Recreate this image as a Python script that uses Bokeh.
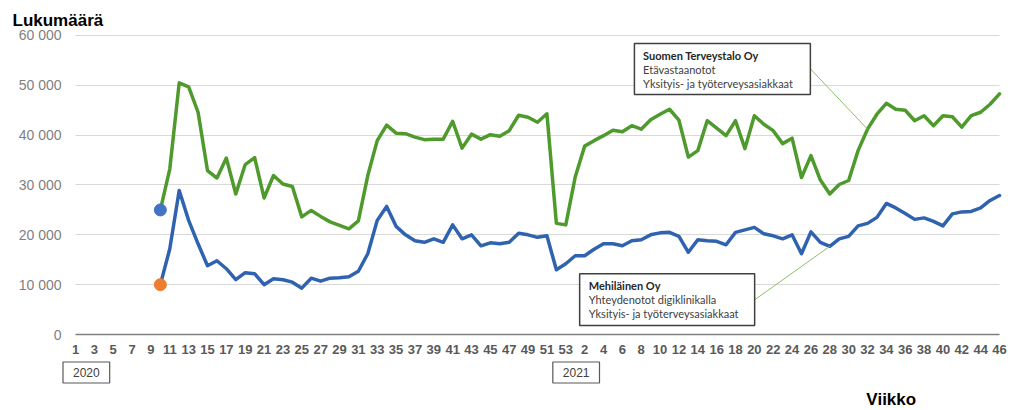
from bokeh.plotting import figure
from bokeh.models import Range1d, FixedTicker, Label, BoxAnnotation, ColumnDataSource, Title
from bokeh.embed import file_html
from bokeh.resources import INLINE

# ---- categories (weeks) ----
weeks_2020 = list(range(1, 54))   # 2020 has weeks 1..53
weeks_2021 = list(range(1, 47))   # 2021 weeks 1..46
week_labels = [str(w) for w in weeks_2020] + [str(w) for w in weeks_2021]
year_labels = ["2020", "2021"]

# both series start at 2020 week 10
start_week = 10

terveystalo = [
    25000, 33200, 50500, 49700, 44600, 32900, 31400, 35400, 28200, 34100,
    35500, 27400, 31900, 30200, 29700, 23600, 24900, 23700, 22600, 21900,
    21200, 22800, 31900, 38900, 42000, 40400, 40300, 39600, 39100, 39200,
    39200, 42800, 37400, 40200, 39200, 40100, 39800, 40900, 44000, 43600,
    42600, 44300, 22300, 22000, 31600, 37800, 38900, 39900, 41000, 40700,
    41900, 41200, 43100, 44200, 45200, 43000, 35600, 36900, 42900, 41400,
    39900, 42900, 37300, 43900, 42200, 40900, 38300, 39400, 31500, 35900,
    31000, 28200, 30100, 30900, 36900, 41200, 44200, 46400, 45200, 45000,
    42900, 43900, 41900, 43900, 43700, 41600, 43900, 44600, 46200, 48300,
]
mehilainen = [
    10000, 17200, 28900, 22900, 18200, 13800, 14800, 13200, 11000, 12400,
    12200, 10000, 11200, 11000, 10500, 9300, 11300, 10700, 11300, 11400,
    11600, 12700, 16200, 22900, 25700, 21700, 20000, 18800, 18500, 19200,
    18500, 22000, 19200, 20000, 17800, 18400, 18200, 18500, 20300, 20000,
    19500, 19800, 13000, 14200, 15800, 15800, 17100, 18200, 18200, 17800,
    18800, 19000, 20000, 20400, 20500, 19700, 16500, 19000, 18800, 18700,
    18000, 20500, 21000, 21500, 20200, 19800, 19200, 20000, 16200, 20600,
    18500, 17700, 19200, 19700, 21800, 22300, 23500, 26300, 25400, 24300,
    23100, 23400, 22700, 21800, 24200, 24600, 24700, 25400, 26900, 27900,
]
y_ticks = [0, 10000, 20000, 30000, 40000, 50000, 60000]
y_tick_labels = ["0", "10 000", "20 000", "30 000", "40 000", "50 000", "60 000"]

start_idx = weeks_2020.index(start_week)
xs = list(range(start_idx, start_idx + len(terveystalo)))
n_cat = len(week_labels)
first_2021 = len(weeks_2020)

GREEN = "#4e9a2c"
BLUE = "#2f63b0"
FONT = "Liberation Sans"

p = figure(width=1015, height=410, output_backend="svg", toolbar_location=None,
           x_range=Range1d(-1.4846, 99.166), y_range=Range1d(-15250, 60400),
           min_border_left=61, min_border_right=5, min_border_top=33, min_border_bottom=0)
p.outline_line_color = None
p.background_fill_color = "white"
p.border_fill_color = "white"

# y title
p.add_layout(Title(text="Lukumäärä", align="left", offset=-49, vertical_align="top",
                   standoff=3, text_font=FONT, text_font_size="17px",
                   text_font_style="bold", text_color="black"), "above")

# grid
p.xgrid.visible = False
p.ygrid.grid_line_color = "#d9d9d9"
p.ygrid.grid_line_width = 1
p.ygrid.ticker = FixedTicker(ticks=y_ticks)
try:
    p.ygrid.cross_bounds = (0, n_cat - 1)
except Exception:
    pass

# axes
p.yaxis.ticker = FixedTicker(ticks=y_ticks)
p.yaxis.major_label_overrides = {t: l for t, l in zip(y_ticks, y_tick_labels)}
p.yaxis.axis_line_color = None
p.yaxis.major_tick_line_color = None
p.yaxis.minor_tick_line_color = None
p.yaxis.major_tick_out = 0
p.yaxis.major_label_standoff = 0
p.yaxis.major_label_text_font = FONT
p.yaxis.major_label_text_font_size = "14px"
p.yaxis.major_label_text_color = "#7f7f7f"

x_ticks = list(range(0, n_cat, 2))
p.xaxis.fixed_location = 0
p.xaxis.bounds = (0, n_cat - 1)
p.xaxis.ticker = FixedTicker(ticks=x_ticks)
p.xaxis.major_label_overrides = {i: week_labels[i] for i in x_ticks}
p.xaxis.axis_line_color = "#808080"
p.xaxis.axis_line_width = 1.5
p.xaxis.major_tick_line_color = None
p.xaxis.minor_tick_line_color = None
p.xaxis.major_tick_out = 0
p.xaxis.major_label_standoff = 10
p.xaxis.major_label_text_font = FONT
p.xaxis.major_label_text_font_style = "bold"
p.xaxis.major_label_text_font_size = "13px"
p.xaxis.major_label_text_color = "#595959"

# series
src = ColumnDataSource(dict(x=xs, t=terveystalo, m=mehilainen))
p.line("x", "t", source=src, line_color=GREEN, line_width=3.5, line_join="round", line_cap="round")
p.line("x", "m", source=src, line_color=BLUE, line_width=3.5, line_join="round", line_cap="round")
p.scatter([xs[0]], [terveystalo[0]], size=12, fill_color="#4472c4", line_color="#4472c4")
p.scatter([xs[0]], [mehilainen[0]], size=12, fill_color="#ed7d31", line_color="#ed7d31")

# callouts
LEADER = "#8cc068"
p.segment(x0=[77.94, 72.03], y0=[53320, 6960], x1=[84, 80],
          y1=[terveystalo[84 - start_idx], mehilainen[80 - start_idx]],
          line_color=LEADER, line_width=1)

p.add_layout(BoxAnnotation(left=59.28, right=77.94, bottom=48160, top=58395,
                           fill_color="white", fill_alpha=1, line_color="#404040",
                           line_width=1.5, line_alpha=1))
p.add_layout(BoxAnnotation(left=53.47, right=72.03, bottom=1806, top=12180,
                           fill_color="white", fill_alpha=1, line_color="#404040",
                           line_width=1.5, line_alpha=1))

def txt(x, y, s, bold=False, size="11px", color="#404040", align="left",
        baseline="middle", font="Lato", **kw):
    p.add_layout(Label(x=x, y=y, text=s, text_font=font, text_font_size=size,
                       text_font_style="bold" if bold else "normal", text_color=color,
                       text_align=align, text_baseline=baseline, **kw))

txt(60.2, 55987, "Suomen Terveystalo Oy", bold=True, color="#262626")
txt(60.2, 53117, "Etävastaanotot")
txt(60.2, 50308, "Yksityis-  ja työterveysasiakkaat")
txt(54.43, 9833, "Mehiläinen Oy", bold=True, color="#262626")
txt(54.43, 6963, "Yhteydenotot  digiklinikalla")
txt(54.43, 4154, "Yksityis-  ja työterveysasiakkaat")

# x title
txt(83.88, -13043, "Viikko", bold=True, size="17px", color="black",
    baseline="alphabetic", font=FONT)

# year boxes
for xv, yr in [(1.15, year_labels[0]), (first_2021 + 0.1, year_labels[1])]:
    p.add_layout(Label(x=xv, y=-7625, text=yr, text_font=FONT, text_font_size="12px",
                       text_color="#404040", text_align="center", text_baseline="middle",
                       border_line_color="#595959", border_line_width=1.2,
                       background_fill_color="white",
                       padding=dict(left=10, right=10, top=6, bottom=6)))

open("out.html", "w").write(file_html(p, INLINE))
